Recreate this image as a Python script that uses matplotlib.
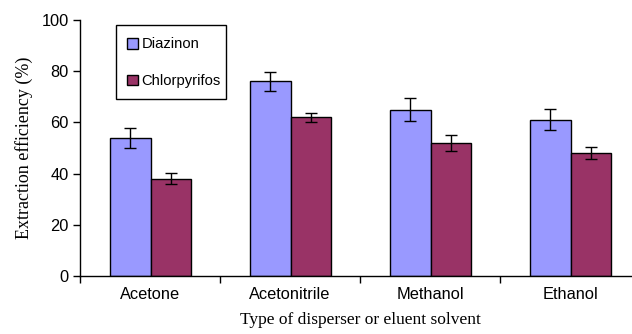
import matplotlib.pyplot as plt
from matplotlib.patches import Rectangle
import numpy as np

solvents = ['Acetone', 'Acetonitrile', 'Methanol', 'Ethanol']
diazinon = [54, 76, 65, 61]
diazinon_err = [4.0, 3.7, 4.5, 4.1]
chlorpyrifos = [38, 62, 52, 48]
chlorpyrifos_err = [2.2, 1.8, 3.1, 2.3]

W, H = 632, 334
fig = plt.figure(figsize=(W / 100, H / 100), dpi=100)
# axes run a little past the right edge, as in the original layout
ax = fig.add_axes([80 / W, 58 / H, 560 / W, 256 / H])

x = np.arange(len(solvents))
w = 0.29
err_kw = dict(ecolor='black', capsize=4, elinewidth=1, capthick=1)
ax.bar(x - w / 2 + 0.005, diazinon, w, yerr=diazinon_err, color='#9999FF',
       edgecolor='black', linewidth=1, error_kw=err_kw, label='Diazinon')
ax.bar(x + w / 2 + 0.005, chlorpyrifos, w, yerr=chlorpyrifos_err, color='#993366',
       edgecolor='black', linewidth=1, error_kw=err_kw, label='Chlorpyrifos')

ax.set_xlim(-0.5, len(solvents) - 0.5)
ax.set_ylim(0, 100)
ax.set_yticks(range(0, 101, 20))
ax.set_xticks(x)
ax.set_xticklabels(solvents, family='Liberation Sans', fontsize=11.8)
ax.set_xticks(np.arange(-0.5, len(solvents)), minor=True)
ax.tick_params(axis='x', which='major', length=0, pad=8)
ax.tick_params(axis='x', which='minor', length=5, width=1, direction='out')
ax.tick_params(axis='y', length=5, width=1, direction='out', pad=3)
for lab in ax.get_yticklabels():
    lab.set_family('Liberation Sans')
    lab.set_fontsize(11.8)

for s in ['top', 'right']:
    ax.spines[s].set_visible(False)
ax.spines['left'].set_linewidth(1)
ax.spines['bottom'].set_linewidth(1)

ax.set_ylabel('Extraction efficiency (%)', family='Liberation Serif', fontsize=13, labelpad=6)
ax.set_xlabel('Type of disperser or eluent solvent', family='Liberation Serif', fontsize=12.5, labelpad=7)

# legend box drawn separately so the padding can be taller than wide
fig.patches.append(Rectangle((116 / W, 1 - 99 / H), 110 / W, 74 / H, transform=fig.transFigure,
                             facecolor='white', edgecolor='black', linewidth=1, zorder=4))
leg = fig.legend(*ax.get_legend_handles_labels(), loc='upper left',
                 bbox_to_anchor=(127 / W, 1 - 37.5 / H), prop={'family': 'Liberation Sans', 'size': 10.6},
                 frameon=False, handlelength=0.75, handleheight=0.75,
                 handletextpad=0.25, labelspacing=1.54, borderpad=0, borderaxespad=0)
leg.set_zorder(5)

fig.savefig('out.png', dpi=100)
